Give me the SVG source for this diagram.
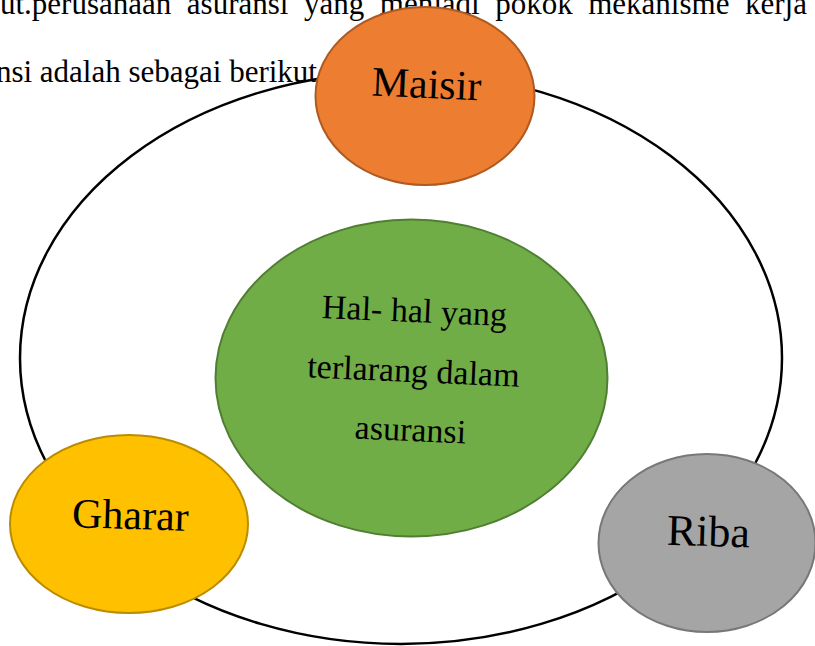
<svg xmlns="http://www.w3.org/2000/svg" width="815" height="646" viewBox="0 0 815 646">
  <style>
    .body { font-family: "Liberation Serif", "Times New Roman", serif; font-size: 31px; fill: #000; }
    .lbl { font-family: "Liberation Serif", "Times New Roman", serif; font-size: 42px; fill: #000; text-anchor: middle; }
    .ctr { font-family: "Liberation Serif", "Times New Roman", serif; font-size: 34px; fill: #000; text-anchor: middle; }
    .ring { fill: none; stroke: #000; stroke-width: 2.5; }
    .node { stroke-width: 2; }
  </style>
  <rect width="815" height="646" fill="#fff"/>
  <g id="body-text">
    <text class="body" x="0" y="14" style="word-spacing:7.8px">ut.perusahaan asuransi yang menjadi pokok mekanisme kerja</text>
    <text class="body" x="317" y="82" text-anchor="end">nsi adalah sebagai berikut</text>
  </g>
  <g id="ring">
    <ellipse class="ring" cx="401" cy="358" rx="381" ry="286"/>
  </g>
  <g id="connectors"/>
  <g id="center">
    <ellipse class="node" cx="411.5" cy="378" rx="196" ry="158.5" fill="#70AD47" stroke="#507E32"/>
    <text class="ctr" transform="translate(414 322) rotate(2.5)">Hal- hal yang</text>
    <text class="ctr" transform="translate(413 382) rotate(2.5)">terlarang dalam</text>
    <text class="ctr" transform="translate(410 441) rotate(2.5)">asuransi</text>
  </g>
  <g id="maisir">
    <ellipse class="node" cx="425" cy="96" rx="109.5" ry="89" fill="#ED7D31" stroke="#AE5A21"/>
    <text class="lbl" transform="translate(426 98) rotate(2.5)">Maisir</text>
  </g>
  <g id="gharar">
    <ellipse class="node" cx="129" cy="524" rx="119" ry="89" fill="#FFC000" stroke="#BC8C00"/>
    <text class="lbl" transform="translate(130 529) rotate(1.8)">Gharar</text>
  </g>
  <g id="riba">
    <ellipse class="node" cx="707" cy="543" rx="108.5" ry="89" fill="#A5A5A5" stroke="#787878"/>
    <text class="lbl" style="font-size:44px" transform="translate(708 546) rotate(1.8)">Riba</text>
  </g>
</svg>
